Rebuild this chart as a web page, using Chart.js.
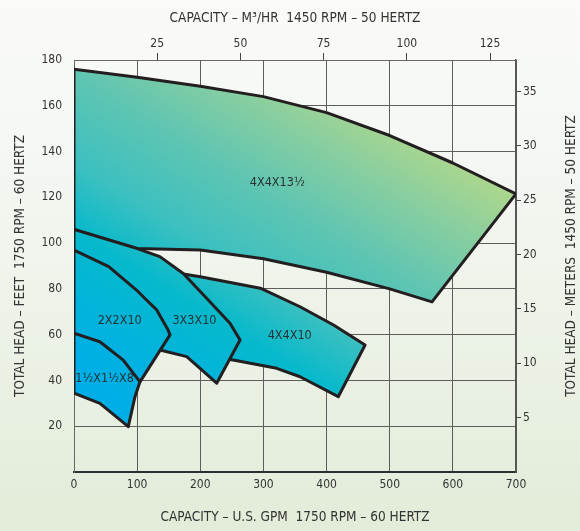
<!DOCTYPE html>
<html>
<head>
<meta charset="utf-8">
<title>Pump ranges</title>
<script src="https://cdn.jsdelivr.net/npm/chart.js@4.4.1/dist/chart.umd.min.js"></script>
<style>
  html, body { margin: 0; padding: 0; }
  body {
    width: 580px; height: 531px; overflow: hidden;
    background: linear-gradient(180deg, #fafbf9 0%, #f1f5ee 45%, #e2ecd8 100%);
  }
  #wrap { position: relative; width: 580px; height: 531px; }
</style>
</head>
<body>
<div id="wrap"><canvas id="pump-chart"></canvas></div>
<script>
// pump ranges: capacity in US GPM, head in feet (1750 rpm / 60 Hz)
const pumpNames = ['1½X1½X8', '2X2X10', '3X3X10', '4X4X10', '4X4X13½'];

const gpm1x1x8 = [0, 41, 78, 104.5, 96.6, 86, 41, 0, 0];
const ft1x1x8  = [60.6, 56.9, 48.9, 39.4, 32.9, 19.8, 30, 34.4, 60.6];

const gpm2x2x10 = [0, 55, 99, 112, 131, 149, 152, 104.5, 0, 0];
const ft2x2x10  = [97, 89.7, 79.5, 75.9, 70.8, 62, 59.9, 39.4, 48, 97];

const gpm3x3x10 = [0, 99, 136, 173, 210, 247, 263, 226, 178.5, 136, 104, 0, 0];
const ft3x3x10  = [106, 97.7, 94.1, 86.7, 75.9, 65, 57.7, 38.8, 50.4, 53.3, 55.5, 75, 106];

const gpm4x4x10 = [173, 200, 295, 358, 411, 461, 418.5, 358, 321, 252, 225, 185, 173];
const ft4x4x10  = [86.5, 85.3, 80.3, 72.2, 64.2, 55.5, 32.9, 41.6, 45.3, 48.9, 50, 75, 86.5];

const gpm4x4x13 = [0, 0, 100, 200, 300, 400, 500, 600, 700, 567, 500, 400, 300, 200, 100, 0];
const ft4x4x13  = [106, 176, 172.5, 168.5, 164, 157, 147, 135, 121.5, 74.3, 80, 87.3, 93.2, 97, 97.7, 106];

// second set of axes (1450 rpm / 50 Hz), same picture
const m3hrMax = 132.8;
const metersMax = 37.9;

const font = "'Liberation Sans Narrow', 'DejaVu Sans Condensed', Roboto, sans-serif";
const ink = '#333333';

function toPoints(xs, ys) {
  return xs.map((x, i) => ({ x: x, y: ys[i] }));
}

// one gradient shared by every range: blue bottom left, pale green top right
let fillGrad = null;
function pumpFill(context) {
  const chart = context.chart;
  const area = chart.chartArea;
  if (!area) return '#00b6d8';
  if (!fillGrad) {
    const g = chart.ctx.createLinearGradient(area.left, area.bottom, area.left + 309, area.bottom - 495);
    g.addColorStop(0, '#00a8f0');
    g.addColorStop(0.2, '#00b1e3');
    g.addColorStop(0.35, '#06b9cc');
    g.addColorStop(0.45, '#3cc0c0');
    g.addColorStop(0.58, '#5fc5b2');
    g.addColorStop(0.7, '#88cea0');
    g.addColorStop(0.82, '#b2d88a');
    g.addColorStop(1, '#c8de88');
    fillGrad = g;
  }
  return fillGrad;
}

// where the names sit, in gpm / feet
const labelSpots = [
  { i: 4, gpm: 322, ft: 126.3 },
  { i: 1, gpm: 72.4, ft: 66 },
  { i: 2, gpm: 190.8, ft: 66 },
  { i: 3, gpm: 341.6, ft: 59.4 },
  { i: 0, gpm: 48.5, ft: 40.6 }
];

const rangeLabels = {
  id: 'rangeLabels',
  afterDatasetsDraw(chart) {
    const { ctx, scales } = chart;
    ctx.save();
    ctx.font = '12.5px ' + font;
    ctx.fillStyle = '#263234';
    ctx.textAlign = 'center';
    ctx.textBaseline = 'middle';
    labelSpots.forEach(l => {
      ctx.fillText(pumpNames[l.i], scales.x.getPixelForValue(l.gpm), scales.y.getPixelForValue(l.ft));
    });
    // right hand title reads bottom to top like the left one
    ctx.translate(571, 256);
    ctx.rotate(-Math.PI / 2);
    ctx.font = '13.5px ' + font;
    ctx.fillStyle = ink;
    ctx.fillText('TOTAL HEAD – METERS  1450 RPM – 50 HERTZ', 0, 0);
    ctx.restore();
  }
};

const tickFont = { family: font, size: 12 };
const titleFont = { family: font, size: 13.5 };

const series = [
  [gpm1x1x8, ft1x1x8],
  [gpm2x2x10, ft2x2x10],
  [gpm3x3x10, ft3x3x10],
  [gpm4x4x10, ft4x4x10],
  [gpm4x4x13, ft4x4x13]
];

new Chart(document.getElementById('pump-chart'), {
  type: 'line',
  data: {
    datasets: series.map((s, i) => ({
      label: pumpNames[i],
      data: toPoints(s[0], s[1]),
      fill: 'shape',
      backgroundColor: pumpFill,
      borderColor: '#231f20',
      borderWidth: 3,
      borderJoinStyle: 'round',
      borderCapStyle: 'round',
      pointRadius: 0,
      tension: 0
    }))
  },
  options: {
    responsive: true,
    maintainAspectRatio: false,
    animation: false,
    events: [],
    layout: { padding: 0 },
    plugins: {
      legend: { display: false },
      tooltip: { enabled: false }
    },
    scales: {
      x: {
        type: 'linear',
        position: 'bottom',
        min: 0,
        max: 700,
        ticks: { stepSize: 100, padding: 6, color: ink, font: tickFont },
        grid: { color: '#5d5d5d', lineWidth: 1, drawTicks: false },
        border: { color: '#2e2e2e', width: 2 },
        title: {
          display: true,
          text: 'CAPACITY – U.S. GPM  1750 RPM – 60 HERTZ',
          color: ink,
          font: titleFont,
          padding: { top: 0, bottom: 5 }
        },
        afterFit: s => { s.height = 59; }
      },
      x2: {
        type: 'linear',
        position: 'top',
        min: 0,
        max: m3hrMax,
        afterBuildTicks: s => { s.ticks = s.ticks.filter(t => t.value > 0 && t.value % 25 === 0); },
        ticks: { stepSize: 25, includeBounds: false, padding: 2, color: ink, font: tickFont },
        grid: { drawOnChartArea: false, tickLength: 7, tickColor: '#444', tickWidth: 1 },
        border: { color: '#666', width: 1 },
        title: {
          display: true,
          text: 'CAPACITY – M³/HR  1450 RPM – 50 HERTZ',
          color: ink,
          font: titleFont,
          padding: { top: 10, bottom: 0 }
        },
        afterFit: s => { s.height = 60; }
      },
      y: {
        type: 'linear',
        position: 'left',
        min: 0,
        max: 180,
        ticks: {
          stepSize: 20,
          padding: 12,
          color: ink,
          font: tickFont,
          callback: v => (v === 0 ? '' : v)
        },
        grid: { color: '#5d5d5d', lineWidth: 1, drawTicks: false },
        border: { color: '#666', width: 1 },
        title: {
          display: true,
          text: 'TOTAL HEAD – FEET  1750 RPM – 60 HERTZ',
          color: ink,
          font: titleFont,
          padding: { top: 12, bottom: 0 }
        },
        afterFit: s => { s.width = 74; }
      },
      y2: {
        type: 'linear',
        position: 'right',
        min: 0,
        max: metersMax,
        afterBuildTicks: s => { s.ticks = s.ticks.filter(t => t.value > 0 && t.value % 5 === 0); },
        ticks: { stepSize: 5, includeBounds: false, padding: 2, color: ink, font: tickFont },
        grid: { drawOnChartArea: false, tickLength: 5, tickColor: '#444', tickWidth: 1 },
        border: { color: '#555', width: 1.5 },
        afterFit: s => { s.width = 64; }
      }
    }
  },
  plugins: [rangeLabels]
});
</script>
</body>
</html>
